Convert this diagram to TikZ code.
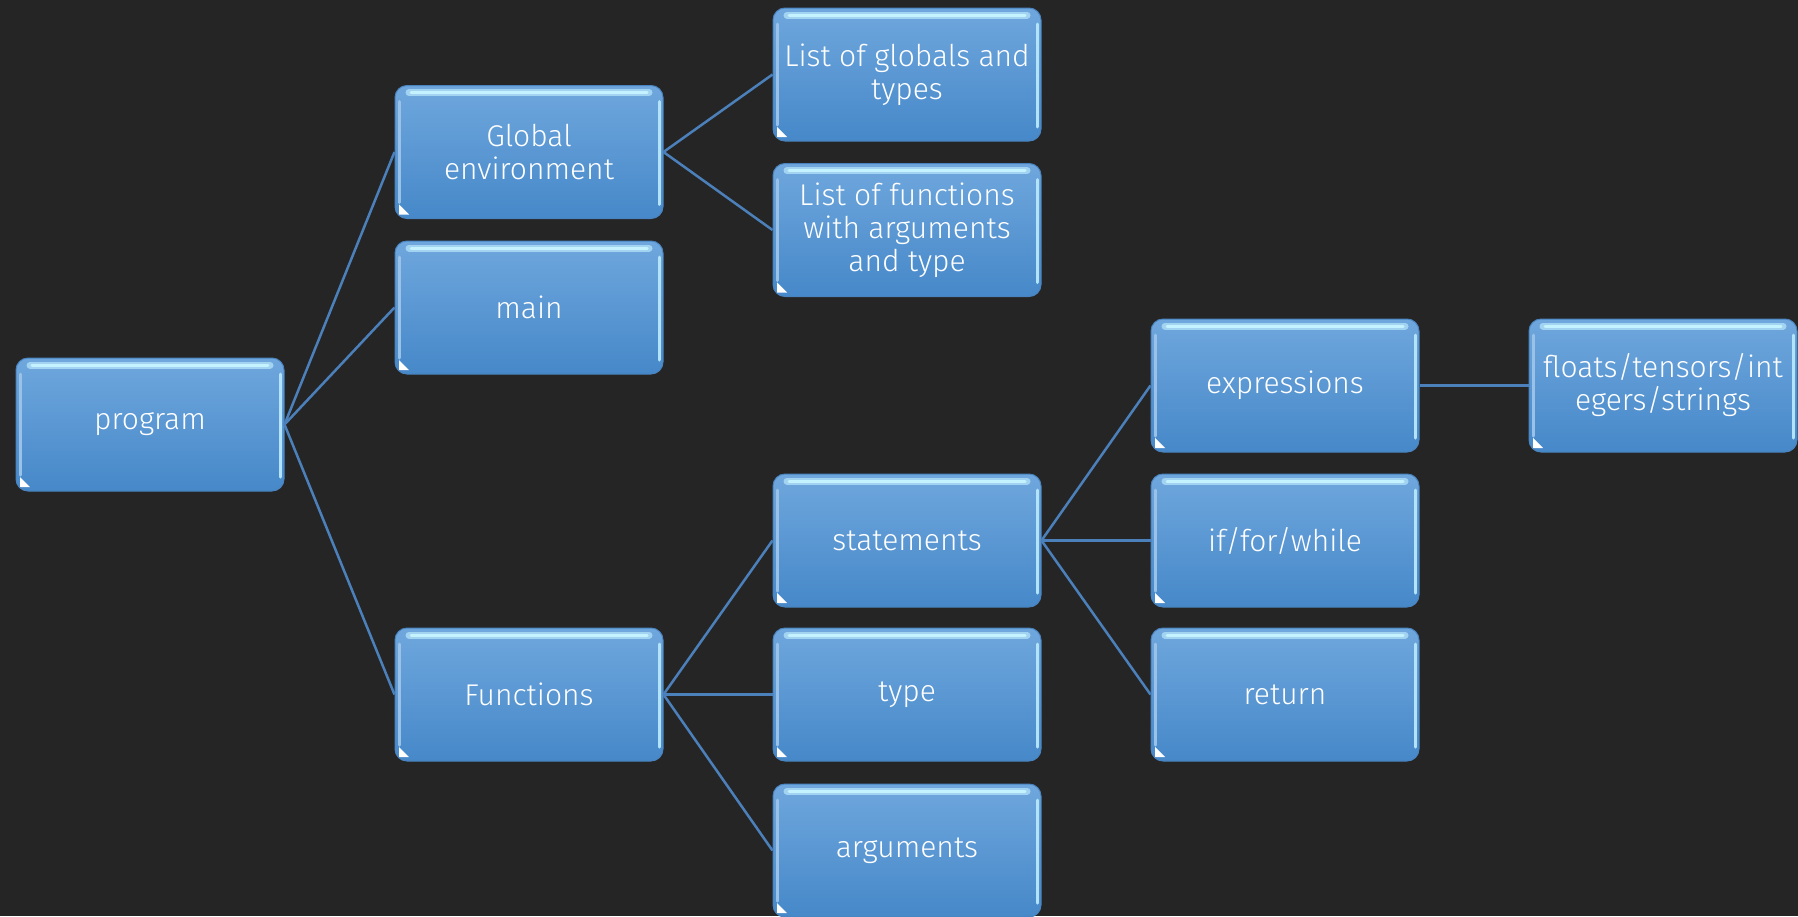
\documentclass[tikz,border=0pt]{standalone}
\usepackage{fontspec}
\setmainfont{Fira Sans}[UprightFont=* Light]
\definecolor{bg}{HTML}{252525}
\definecolor{boxtop}{HTML}{6FA7DD}
\definecolor{boxbot}{HTML}{4688C9}
\definecolor{boxedge}{HTML}{4A84C0}
\definecolor{hl}{HTML}{C4F2FF}
\definecolor{linkc}{HTML}{4B80BA}
\begin{document}
\begin{tikzpicture}[x=1pt,y=-1pt,
  box/.style={rounded corners=12pt, minimum width=268pt, minimum height=133pt,
    top color=boxtop, bottom color=boxbot, draw=boxedge, line width=1pt,
    text=white, align=center, inner sep=1pt,
    font=\fontsize{30}{33}\selectfont,
    path picture={
      \draw[sharp corners, line width=7pt, hl!60!boxtop, line cap=round]
        ([xshift=14pt,yshift=-7pt]path picture bounding box.north west) --
        ([xshift=-14pt,yshift=-7pt]path picture bounding box.north east);
      \draw[sharp corners, line width=3pt, hl, line cap=round]
        ([xshift=16pt,yshift=-7pt]path picture bounding box.north west) --
        ([xshift=-16pt,yshift=-7pt]path picture bounding box.north east);
      \draw[sharp corners, line width=3pt, hl!80!boxtop, line cap=round]
        ([xshift=-4pt,yshift=-16pt]path picture bounding box.north east) --
        ([xshift=-4pt,yshift=14pt]path picture bounding box.south east);
      \draw[sharp corners, line width=3pt, boxtop!70!white, line cap=round]
        ([xshift=4pt,yshift=-16pt]path picture bounding box.north west) --
        ([xshift=4pt,yshift=16pt]path picture bounding box.south west);
      \fill[sharp corners, white]
        ([xshift=4pt,yshift=4pt]path picture bounding box.south west) --
        ++(10pt,0pt) -- ++(-10pt,10pt) -- cycle;
    }},
  link/.style={draw=linkc, line width=2.5pt}]
\fill[bg] (0,0) rectangle (1798,916);
\useasboundingbox (0,0) rectangle (1798,916);

\node[box] (program) at (150,424.5) {program};
\node[box] (global) at (529,152) {Global\\environment};
\node[box] (main) at (529,307.5) {main};
\node[box] (functions) at (529,694.5) {Functions};
\node[box] (globals) at (907,74.5) {List of globals and\\types};
\node[box] (funclist) at (907,230) {List of functions\\with arguments\\and type};
\node[box] (statements) at (907,540.5) {statements};
\node[box] (type) at (907,694.5) {type};
\node[box] (arguments) at (907,850.5) {arguments};
\node[box] (expressions) at (1285,385.5) {expressions};
\node[box] (control) at (1285,540.5) {if/for/while};
\node[box] (return) at (1285,694.5) {return};
\node[box] (values) at (1663,385.5) {floats/tensors/int\\egers/strings};

\draw[link] (program.east) -- (global.west);
\draw[link] (program.east) -- (main.west);
\draw[link] (program.east) -- (functions.west);
\draw[link] (global.east) -- (globals.west);
\draw[link] (global.east) -- (funclist.west);
\draw[link] (functions.east) -- (statements.west);
\draw[link] (functions.east) -- (type.west);
\draw[link] (functions.east) -- (arguments.west);
\draw[link] (statements.east) -- (expressions.west);
\draw[link] (statements.east) -- (control.west);
\draw[link] (statements.east) -- (return.west);
\draw[link] (expressions.east) -- (values.west);
\end{tikzpicture}
\end{document}
